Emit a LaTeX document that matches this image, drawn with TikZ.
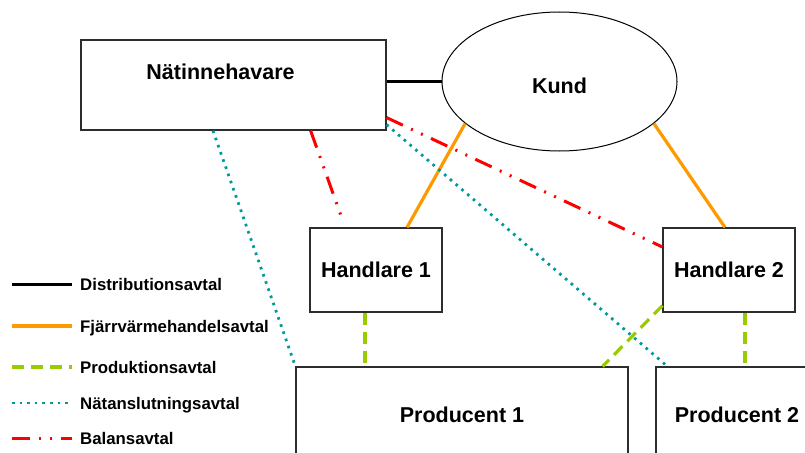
\documentclass[tikz,border=0pt]{standalone}
\usepackage{fontspec}
\setmainfont{Liberation Sans}
\usetikzlibrary{shapes.geometric}

\definecolor{orangeline}{RGB}{255,153,0}
\definecolor{greenline}{RGB}{153,204,0}
\definecolor{tealline}{RGB}{0,153,153}
\definecolor{redline}{RGB}{255,0,0}
\definecolor{boxline}{RGB}{45,45,45}

\tikzset{
  party/.style={draw=boxline, line width=1.2pt, rectangle, inner sep=0pt,
    font=\fontsize{21.5}{24}\selectfont\bfseries},
  distr/.style={black, line width=3pt},
  fjv/.style={orangeline, line width=3.2pt},
  prod/.style={greenline, line width=3.2pt, dash pattern=on 12pt off 7pt},
  natansl/.style={tealline, line width=2.8pt, dash pattern=on 2.6pt off 5pt},
  balans/.style={redline, line width=3pt, dash pattern=on 18pt off 9pt on 2pt off 9pt on 2pt off 9pt},
  legtext/.style={anchor=base west, inner sep=0pt, font=\fontsize{16.8}{19}\selectfont\bfseries}
}

\begin{document}
\begin{tikzpicture}[x=1pt,y=1pt]
\useasboundingbox (0,0) rectangle (805,-452);
\clip (0,0) rectangle (805,-452);
\node[party, minimum width=305, minimum height=90,
  label={[name=natinntxt, font=\fontsize{21.5}{24}\selectfont\bfseries, xshift=-13, yshift=13]center:Nätinnehavare}] (natinn) at (233.5,-85) {};
\node[party, draw=black, line width=1pt, ellipse, minimum width=235, minimum height=139, text height=24.5pt] (kund) at (559.5,-81.5) {Kund};
\node[party, minimum width=132, minimum height=84] (h1) at (376,-270) {Handlare 1};
\node[party, minimum width=132, minimum height=84] (h2) at (729,-270) {Handlare 2};
\node[party, minimum width=332, minimum height=96] (p1) at (462,-415) {Producent 1};
\node[party, minimum width=162, minimum height=96] (p2) at (737,-415) {Producent 2};
\coordinate (g1) at ([xshift=-11]h1.south);
\coordinate (g2) at ([xshift=16]h2.south);
\draw[distr] (natinn.east |- kund.west) -- (kund.west);
\draw[fjv] (kund.204) -- ([xshift=31]h1.north);
\draw[fjv] (kund.-24) -- ([xshift=-4]h2.north);
\draw[balans] ([xshift=-76]natinn.south east) -- ([xshift=-33,yshift=6]h1.north);
\draw[balans] ([yshift=13]natinn.south east) -- ([yshift=23]h2.west);
\draw[natansl] ([xshift=-20.5]natinn.south) -- (p1.north west);
\draw[natansl] ([yshift=6]natinn.south east) -- ([xshift=12]p2.north west);
\draw[prod] (g1) -- (g1 |- p1.north);
\draw[prod] (g2) -- (g2 |- p2.north);
\draw[prod] ([yshift=7]h2.south west) -- ([xshift=-26]p1.north east);
\foreach \sty/\txt/\y [count=\i] in {distr/Distributionsavtal/284, fjv/Fjärrvärmehandelsavtal/326,
    prod/Produktionsavtal/367, natansl/Nätanslutningsavtal/403, balans/Balansavtal/438}{
  \coordinate (lega\i) at (12,-\y);
  \coordinate (legb\i) at (72,-\y);
  \draw[\sty] (lega\i) -- (legb\i);
  \node[legtext] (leg\i) at (80,-\y-6.5) {\txt};
}
\end{tikzpicture}
\end{document}
